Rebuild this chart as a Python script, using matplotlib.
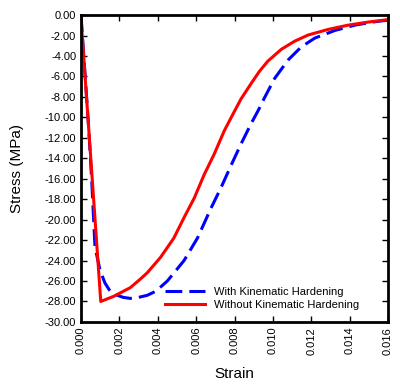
import matplotlib.pyplot as plt
import numpy as np

plt.rcParams['font.family'] = ['Liberation Sans', 'DejaVu Sans']

# with kinematic hardening (blue dashed)
kin_strain = [0.0, 0.0002, 0.0004, 0.00056, 0.00073, 0.001, 0.00125, 0.00152, 0.0019, 0.0022,
              0.00257, 0.003, 0.00345, 0.0039, 0.0045, 0.00537, 0.00607, 0.00677,
              0.00729, 0.00782, 0.00834, 0.00887, 0.0093, 0.00956, 0.01009, 0.01079,
              0.01149, 0.01219, 0.01324, 0.01429, 0.01533, 0.016]
kin_stress = [0.0, -5.5, -11.0, -16.2, -22.7, -25.0, -26.2, -27.0, -27.4, -27.6,
              -27.7, -27.6, -27.4, -27.0, -26.0, -24.0, -21.8, -18.9,
              -16.9, -14.7, -12.6, -10.6, -9.1, -8.1, -6.2, -4.4,
              -3.1, -2.25, -1.5, -0.98, -0.65, -0.5]

# without kinematic hardening (red solid)
iso_strain = [0.0, 0.00103, 0.0017, 0.00257, 0.0031, 0.00345, 0.00414, 0.00484, 0.00537,
              0.0059, 0.00642, 0.00694, 0.00747, 0.0080, 0.00834, 0.0089, 0.0093,
              0.00974, 0.01044, 0.01114, 0.01184, 0.01289, 0.01394, 0.01499, 0.016]
iso_stress = [-0.3, -28.0, -27.5, -26.65, -25.8, -25.2, -23.7, -21.8, -19.8,
              -17.9, -15.6, -13.6, -11.3, -9.4, -8.2, -6.6, -5.5,
              -4.5, -3.35, -2.55, -1.95, -1.4, -0.98, -0.68, -0.45]

xticks = np.arange(0, 0.0161, 0.002)
yticks = np.arange(0, -30.1, -2)

fig = plt.figure(figsize=(4, 3.86), dpi=100)
ax = fig.add_axes([0.2025, 0.166, 0.7675, 0.795])

ax.plot(kin_strain, kin_stress, color='#0000ff', lw=2.2, dashes=(5.5, 2.3),
        label='With Kinematic Hardening')
ax.plot(iso_strain, iso_stress, color='#ff0000', lw=2.2,
        label='Without Kinematic Hardening')

ax.set_xlim(0, 0.016)
ax.set_ylim(-30, 0)
ax.set_xticks(xticks)
ax.set_xticklabels(['%.3f' % v for v in xticks], rotation=90, fontsize=8)
ax.set_yticks(yticks)
ax.set_yticklabels(['%.2f' % v for v in yticks], fontsize=8)
ax.tick_params(direction='in', top=True, right=True, length=4, width=1)
for s in ax.spines.values():
    s.set_linewidth(2)

ax.set_xlabel('Strain', fontsize=11, labelpad=9)
ax.set_ylabel('Stress (MPa)', fontsize=11, labelpad=15)

ax.legend(loc='lower left', bbox_to_anchor=(0.255, 0.02), frameon=False,
          fontsize=8, handlelength=3.6, borderpad=0, labelspacing=0.3,
          handletextpad=0.8)

plt.savefig('out.png')
